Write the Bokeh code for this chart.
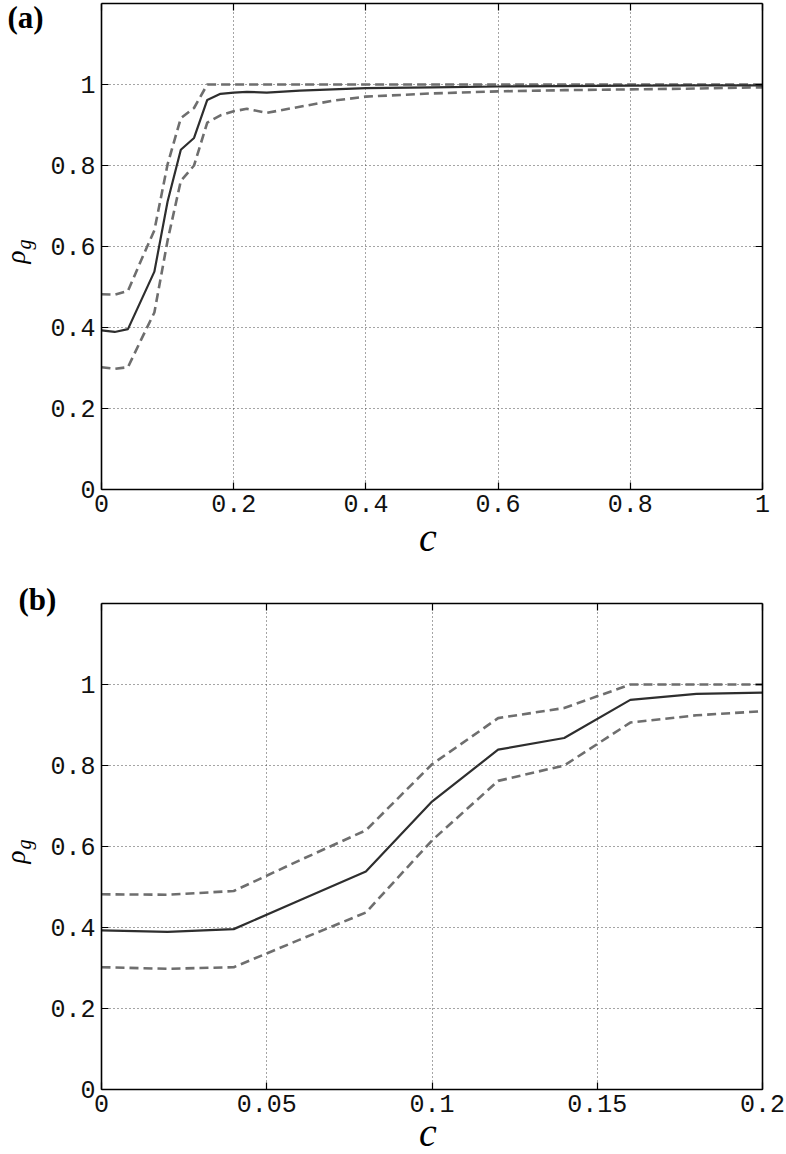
import math
from bokeh.plotting import figure
from bokeh.models import (Range1d, FixedTicker, LinearAxis, Label, Grid,
                          CustomLabelingPolicy)
from bokeh.layouts import column
from bokeh.embed import file_html
from bokeh.resources import INLINE

# ---------------- data ----------------
c_vals = [0.0, 0.02, 0.04, 0.06, 0.08, 0.10, 0.12, 0.14, 0.16, 0.18, 0.20,
          0.22, 0.25, 0.30, 0.35, 0.40, 0.50, 0.60, 0.70, 0.80, 0.90, 1.00]
rho_mean = [0.393, 0.389, 0.396, 0.467, 0.538, 0.711, 0.839, 0.868, 0.962, 0.977, 0.980,
            0.982, 0.980, 0.985, 0.988, 0.991, 0.993, 0.995, 0.996, 0.997, 0.998, 0.998]
rho_upper = [0.482, 0.481, 0.490, 0.566, 0.640, 0.803, 0.917, 0.942, 1.000, 1.000, 1.000,
             1.000, 1.000, 1.000, 1.000, 1.000, 1.000, 1.000, 1.000, 1.000, 1.000, 1.000]
rho_lower = [0.302, 0.298, 0.302, 0.370, 0.437, 0.615, 0.762, 0.800, 0.906, 0.924, 0.934,
             0.940, 0.930, 0.945, 0.960, 0.970, 0.978, 0.983, 0.986, 0.988, 0.990, 0.993]

y_ticks = [0, 0.2, 0.4, 0.6, 0.8, 1.0]
y_tick_labels = ["0", "0.2", "0.4", "0.6", "0.8", "1"]
xa_ticks = [0, 0.2, 0.4, 0.6, 0.8, 1.0]
xa_tick_labels = ["0", "0.2", "0.4", "0.6", "0.8", "1"]
xb_ticks = [0, 0.05, 0.1, 0.15, 0.2]
xb_tick_labels = ["0", "0.05", "0.1", "0.15", "0.2"]
Y_MAX = 1.2

# ---------------- layout constants (pixels) ----------------
W = 786
FRAME_L, FRAME_R = 101, 762
TICK_FONT = "Liberation Mono"
SERIF = "Liberation Serif"
HAS_CROSS = "cross_bounds" in Grid.properties()
GRID_KW = dict(grid_line_color="#4a4a4a", grid_line_dash="1 3", grid_line_width=1)


def style_axis(ax, labels=True):
    ax.axis_line_color = "black"
    ax.axis_line_width = 1.6
    ax.major_tick_in = 7
    ax.major_tick_out = 0
    ax.major_tick_line_color = "black"
    ax.major_tick_line_width = 1.2
    ax.minor_tick_line_color = None
    ax.major_label_text_font = TICK_FONT
    ax.major_label_text_font_size = "25px"
    ax.major_label_text_color = "#111111"
    if not labels:
        ax.major_label_policy = CustomLabelingPolicy(code="return new Set()")


def panel(letter, x_end, xticks, xlabels, height, frame_top, frame_bottom, c_dy):
    px_x = (FRAME_R - FRAME_L) / x_end
    px_y = (frame_bottom - frame_top) / Y_MAX
    xr = Range1d(-FRAME_L / px_x, (W - FRAME_L) / px_x)
    yr = Range1d(-(height - frame_bottom) / px_y, frame_bottom / px_y)

    p = figure(width=W, height=height, x_range=xr, y_range=yr,
               x_axis_type=None, y_axis_type=None, min_border=0,
               output_backend="svg", toolbar_location=None)
    p.outline_line_color = None
    p.background_fill_color = "white"
    p.border_fill_color = "white"

    xt = FixedTicker(ticks=xticks)
    yt = FixedTicker(ticks=y_ticks)

    # dotted grid, limited to the box
    if HAS_CROSS:
        p.add_layout(Grid(dimension=0, ticker=xt, bounds=(0, x_end), cross_bounds=(0, Y_MAX), **GRID_KW))
        p.add_layout(Grid(dimension=1, ticker=yt, bounds=(0, Y_MAX), cross_bounds=(0, x_end), **GRID_KW))
    else:
        p.segment(x0=xticks, y0=[0] * len(xticks), x1=xticks, y1=[Y_MAX] * len(xticks),
                  line_color="#4a4a4a", line_dash="1 3", line_width=1)
        p.segment(x0=[0] * len(y_ticks), y0=y_ticks, x1=[x_end] * len(y_ticks), y1=y_ticks,
                  line_color="#4a4a4a", line_dash="1 3", line_width=1)

    # series (only the part inside this panel's c-range)
    keep = [i for i, c in enumerate(c_vals) if c <= x_end + 1e-9]
    cx = [c_vals[i] for i in keep]
    p.line(cx, [rho_upper[i] for i in keep], line_color="#6e6e6e", line_width=2.6, line_dash="9 5")
    p.line(cx, [rho_lower[i] for i in keep], line_color="#6e6e6e", line_width=2.6, line_dash="9 5")
    p.line(cx, [rho_mean[i] for i in keep], line_color="#2e2e2e", line_width=2.2)

    # box axes at fixed data positions
    bottom = LinearAxis(ticker=xt, fixed_location=0, bounds=(0, x_end),
                        major_label_overrides={t: l for t, l in zip(xticks, xlabels)})
    left = LinearAxis(ticker=yt, fixed_location=0, bounds=(0, Y_MAX),
                      major_label_overrides={t: l for t, l in zip(y_ticks, y_tick_labels)})
    top = LinearAxis(ticker=xt, fixed_location=Y_MAX, bounds=(0, x_end))
    right = LinearAxis(ticker=yt, fixed_location=x_end, bounds=(0, Y_MAX))
    style_axis(bottom)
    style_axis(left)
    style_axis(top, labels=False)
    style_axis(right, labels=False)
    bottom.major_label_standoff = 5
    left.major_label_standoff = 6
    p.add_layout(bottom, "below")
    p.add_layout(left, "left")
    p.add_layout(top, "above")
    p.add_layout(right, "right")

    # panel letter, beside the top-left corner of the box
    p.add_layout(Label(x=0, y=Y_MAX, x_offset=letter[1], y_offset=letter[2],
                       text=letter[0], text_font=SERIF, text_font_style="bold",
                       text_font_size="31px", text_baseline="alphabetic", text_align="left",
                       text_color="black"))
    # y-axis label  rho_g  (rotated)
    p.add_layout(Label(x=0, y=0, x_offset=-85.5, y_offset=226, angle=math.pi / 2,
                       text="ρ", text_font=SERIF, text_font_style="italic",
                       text_font_size="27px", text_baseline="alphabetic", text_align="left",
                       text_color="black"))
    p.add_layout(Label(x=0, y=0, x_offset=-78, y_offset=240, angle=math.pi / 2,
                       text="g", text_font=SERIF, text_font_style="italic",
                       text_font_size="20px", text_baseline="alphabetic", text_align="left",
                       text_color="black"))
    # x-axis label c
    p.add_layout(Label(x=x_end / 2, y=0, x_offset=-4, y_offset=c_dy,
                       text="c", text_font=SERIF, text_font_style="italic",
                       text_font_size="40px", text_baseline="alphabetic", text_align="center",
                       text_color="black"))
    return p


H_A = 565
H_B = 1154 - H_A
pa = panel(("(a)", -94, -14.2), 1.0, xa_ticks, xa_tick_labels, H_A, 3, 489, -48)
pb = panel(("(b)", -83, 3.8), 0.2, xb_ticks, xb_tick_labels, H_B, 603 - H_A, 1089 - H_A, -43)

layout = column(pa, pb, spacing=0)
open("out.html", "w").write(file_html(layout, INLINE))
